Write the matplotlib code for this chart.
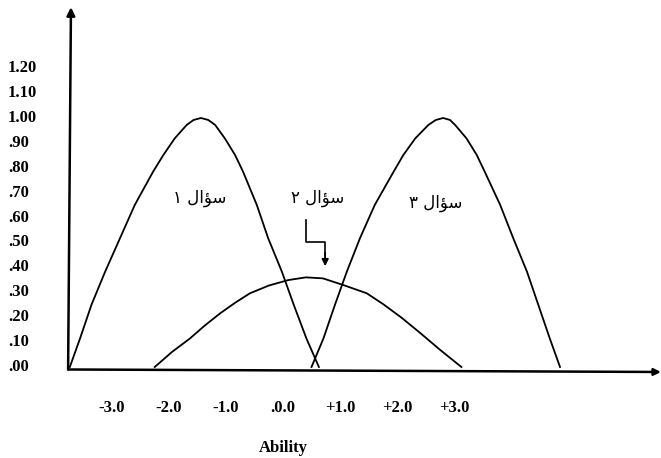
import numpy as np
import matplotlib
matplotlib.use("Agg")
import matplotlib.pyplot as plt

# tick labels
y_ticks = [0.0, 0.1, 0.2, 0.3, 0.4, 0.5, 0.6, 0.7, 0.8, 0.9, 1.0, 1.1, 1.2]
y_labels = ['.00', '.10', '.20', '.30', '.40', '.50', '.60', '.70', '.80', '.90',
            '1.00', '1.10', '1.20']
x_ticks = [-3, -2, -1, 0, 1, 2, 3]
x_labels = ['-3.0', '-2.0', '-1.0', '.0.0', '+1.0', '+2.0', '+3.0']

# item curves
item1_x = [-3.74, -3.56, -3.36, -3.12, -2.86, -2.60, -2.28, -2.10, -1.90,
           -1.69, -1.57, -1.44, -1.31, -1.19, -1.02, -0.84, -0.70, -0.46,
           -0.26, -0.02, 0.19, 0.41, 0.63]
item1_y = [0.00, 0.115, 0.25, 0.383, 0.517, 0.651, 0.784, 0.851, 0.918,
           0.972, 0.992, 1.00, 0.992, 0.972, 0.918, 0.851, 0.784, 0.651,
           0.517, 0.383, 0.249, 0.115, 0.00]

item2_x = [-2.25, -1.95, -1.63, -1.37, -1.10, -0.84, -0.58, -0.25, 0.09,
           0.40, 0.70, 1.06, 1.47, 1.76, 2.08, 2.40, 2.75, 3.13]
item2_y = [0.00, 0.06, 0.115, 0.167, 0.216, 0.258, 0.296, 0.327, 0.349,
           0.360, 0.356, 0.329, 0.296, 0.252, 0.198, 0.138, 0.07, 0.00]

item3_x = [0.50, 0.71, 0.91, 1.12, 1.35, 1.61, 1.94, 2.11, 2.32, 2.55,
           2.68, 2.81, 2.93, 3.02, 3.22, 3.40, 3.54, 3.81, 4.04, 4.28,
           4.48, 4.68, 4.86]
item3_y = [0.00, 0.115, 0.249, 0.383, 0.517, 0.651, 0.784, 0.851, 0.918, 0.972,
           0.992, 1.00, 0.992, 0.972, 0.918, 0.851, 0.784, 0.651, 0.517, 0.383,
           0.249, 0.115, 0.00]

# Persian labels, presentation forms in visual order (no shaping in matplotlib)
word = '\uFEDD\uFE8D\uFE86\uFEB3'
item_labels = ['\u06F1 ' + word, '\u06F2 ' + word, '\u06F3 ' + word]

fig = plt.figure(figsize=(6.61, 4.58), dpi=100)
ax = fig.add_axes([0, 0, 1, 1])
ax.set_xlim(-283 / 57, 378 / 57)
ax.set_ylim(-91 / 249, 367 / 249)
ax.axis('off')

serif = dict(family='Liberation Serif', fontweight='bold', fontsize=12)

# axes with arrows
ax.annotate('', xy=(-3.72, 1.445), xytext=(-3.77, -0.01),
            arrowprops=dict(arrowstyle='-|>', lw=1.8, color='black',
                            mutation_scale=12, shrinkA=0, shrinkB=0))
ax.annotate('', xy=(6.63, -0.02), xytext=(-3.77, -0.01),
            arrowprops=dict(arrowstyle='-|>', lw=1.8, color='black',
                            mutation_scale=10, shrinkA=0, shrinkB=0))

ax.plot(item1_x, item1_y, color='black', lw=1.3)
ax.plot(item2_x, item2_y, color='black', lw=1.3)
ax.plot(item3_x, item3_y, color='black', lw=1.3)

for v, lab in zip(y_ticks, y_labels):
    ax.text(0.012, v, lab, transform=ax.get_yaxis_transform(),
            ha='left', va='center', **serif)
for v, lab in zip(x_ticks, x_labels):
    ax.text(v, 0.109, lab, transform=ax.get_xaxis_transform(),
            ha='center', va='center', **serif)
ax.text(0, 0.021, 'Ability', transform=ax.get_xaxis_transform(),
        ha='center', va='center', **serif)

ax.text(-1.47, 0.68, item_labels[0], ha='center', va='center',
        family=['DejaVu Sans'], fontsize=12)
ax.text(0.60, 0.68, item_labels[1], ha='center', va='center',
        family=['DejaVu Sans'], fontsize=12)
ax.text(2.68, 0.66, item_labels[2], ha='center', va='center',
        family=['DejaVu Sans'], fontsize=12)

# bent arrow pointing at item 2
ax.plot([0.40, 0.40, 0.74, 0.74], [0.59, 0.503, 0.503, 0.44], color='black', lw=1.2)
ax.annotate('', xy=(0.74, 0.405), xytext=(0.74, 0.46),
            arrowprops=dict(arrowstyle='-|>', lw=1.2, color='black',
                            mutation_scale=10, shrinkA=0, shrinkB=0))

fig.savefig('out.png', dpi=100)
